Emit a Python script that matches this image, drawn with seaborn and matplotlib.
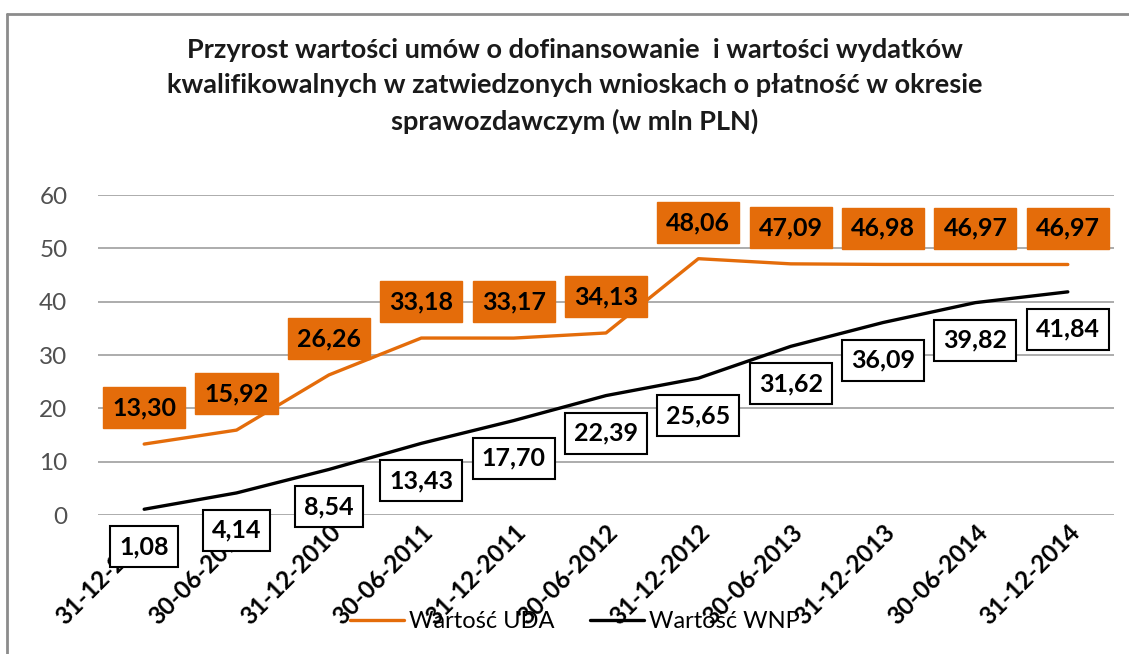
import matplotlib
matplotlib.use("Agg")
import matplotlib.pyplot as plt
from matplotlib.lines import Line2D
import pandas as pd
import seaborn as sns

dates = ['31-12-2009', '30-06-2010', '31-12-2010', '30-06-2011', '31-12-2011',
         '30-06-2012', '31-12-2012', '30-06-2013', '31-12-2013', '30-06-2014',
         '31-12-2014']
uda = [13.30, 15.92, 26.26, 33.18, 33.17, 34.13, 48.06, 47.09, 46.98, 46.97, 46.97]
wnp = [1.08, 4.14, 8.54, 13.43, 17.70, 22.39, 25.65, 31.62, 36.09, 39.82, 41.84]
series_names = ['Wartość UDA', 'Wartość WNP']
title = ('Przyrost wartości umów o dofinansowanie  i wartości wydatków\n'
         'kwalifikowalnych w zatwiedzonych wnioskach o płatność w okresie\n'
         'sprawozdawczym (w mln PLN)')

ORANGE = '#E46C0A'

sns.set_theme(style='white')
plt.rcParams['font.family'] = ['Lato', 'DejaVu Sans']

df = pd.DataFrame({'data': dates * 2,
                   'value': uda + wnp,
                   'seria': [series_names[0]] * len(dates) + [series_names[1]] * len(dates)})

fig = plt.figure(figsize=(11.29, 6.54), dpi=100)
ax = fig.add_axes([98 / 1129, 1 - 515 / 654, (1114 - 98) / 1129, (515 - 195) / 654])

sns.lineplot(data=df, x='data', y='value', hue='seria', sort=False,
             palette=[ORANGE, 'black'], linewidth=2.4, ax=ax, legend=False)

ax.set_xlim(-0.5, len(dates) - 0.5)
ax.set_ylim(0, 60)
ax.set_yticks(range(0, 61, 10))
ax.yaxis.grid(True, color='#A6A6A6', linewidth=1.3)
ax.xaxis.grid(False)
for s in ax.spines.values():
    s.set_visible(False)
ax.set_xlabel('')
ax.set_ylabel('')
ax.tick_params(axis='y', labelsize=17.5, labelcolor='#505050', pad=22, length=0)
ax.tick_params(axis='x', length=0, pad=4)
ax.set_xticks(range(len(dates)))
ax.set_xticklabels(dates, rotation=45, ha='right', rotation_mode='anchor',
                   fontsize=17.5, fontweight='bold', color='black')

def fmt(v):
    return f'{v:.2f}'.replace('.', ',')

# etykiety danych: UDA nad linią, WNP pod linią
for i, v in enumerate(uda):
    ax.annotate(fmt(v), (i, v), xytext=(0, 26), textcoords='offset points',
                ha='center', va='center', fontsize=18, color='black', fontweight='bold',
                bbox=dict(boxstyle='square,pad=0.36', fc=ORANGE, ec=ORANGE))
for i, v in enumerate(wnp):
    ax.annotate(fmt(v), (i, v), xytext=(0, -27), textcoords='offset points',
                ha='center', va='center', fontsize=18, color='black', fontweight='bold',
                bbox=dict(boxstyle='square,pad=0.36', fc='white', ec='black', lw=1.5))

handles = [Line2D([], [], color=ORANGE, lw=2.4), Line2D([], [], color='black', lw=2.4)]
leg = fig.legend(handles, series_names, loc='center', bbox_to_anchor=(0.509, 1 - 622 / 654),
                 ncol=2, frameon=False, fontsize=17, handlelength=2.3, handletextpad=0.2,
                 columnspacing=1.5)
for t in leg.get_texts():
    t.set_color('black')

fig.text(0.509, 1 - 38 / 654, title, ha='center', va='top', fontsize=19.5,
         fontweight='bold', color='#1a1a1a', linespacing=1.55)

fig.add_artist(Line2D([7 / 1129, 7 / 1129], [0, 1 - 14 / 654], transform=fig.transFigure,
                      color='#8c8c8c', lw=2))
fig.add_artist(Line2D([7 / 1129, 1], [1 - 14 / 654, 1 - 14 / 654], transform=fig.transFigure,
                      color='#8c8c8c', lw=2))

fig.savefig('out.png', dpi=100)
